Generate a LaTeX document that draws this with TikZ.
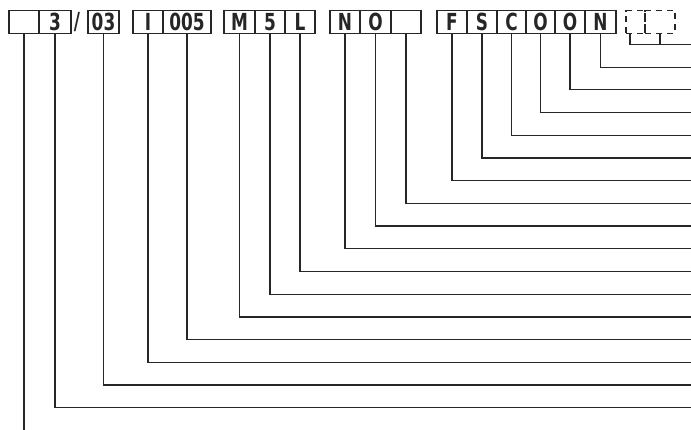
\documentclass[tikz,border=0pt]{standalone}
\usepackage{fontspec}
\newfontfamily\codefont[FakeStretch=0.72]{DejaVu Sans Bold}
\begin{document}
\begin{tikzpicture}[x=1pt,y=-1pt,
  cell/.style={draw=black!85, line width=1.2pt, inner sep=0pt, minimum height=22.6pt,
    font=\codefont\fontsize{23.5}{24}\selectfont, text=black!85, text height=17.3pt, text depth=0pt},
  dcell/.style={draw=black!85, dash pattern=on 6pt off 5pt, line width=1.1pt, inner sep=0pt, minimum height=22.6pt},
  lead/.style={draw=black!85, line width=1.2pt},
  slash/.style={inner sep=0pt, text=black!85, font=\codefont\fontsize{23.5}{24}\selectfont}]
\useasboundingbox (0,0) rectangle (691,430);
\newcommand{\cellnode}[4]{\node[cell, minimum width={#2-#1}, anchor=center] (#3) at ({(#1+#2)/2},22) {#4};}
\cellnode{9}{39}{c1}{}
\cellnode{39}{71}{c2}{3}
\node[slash] (sl) at (77,22) {/};
\cellnode{88}{119}{c3}{03}
\cellnode{133}{163}{c4}{I}
\cellnode{163}{211}{c5}{005}
\cellnode{224}{255}{c6}{M}
\cellnode{255}{285}{c7}{5}
\cellnode{285}{315}{c8}{L}
\cellnode{330}{360}{c9}{N}
\cellnode{360}{391}{c10}{O}
\cellnode{391}{421}{c11}{}
\cellnode{437}{467}{c12}{F}
\cellnode{467}{497}{c13}{S}
\cellnode{497}{526}{c14}{C}
\cellnode{526}{555}{c15}{O}
\cellnode{555}{585}{c16}{O}
\cellnode{585}{616}{c17}{N}
% dashed cells
\node[dcell, minimum width=19pt] (d1) at (635.5,22.2) {};
\node[dcell, minimum width=30pt] (d2) at (660,22.2) {};
% right-end coordinates
\foreach \k in {0,...,16} {\coordinate (r\k) at (691,{44.4+22.71*\k});}
\coordinate (bot) at (24,430);
\coordinate (tA) at (630,33.5);
\coordinate (tB) at (660,33.5);
% leaders
\draw[lead] (tA) |- (r0);
\draw[lead] (tB) -- (tB |- r0);
\draw[lead] (c17.south) |- (r1);
\draw[lead] (c16.south) |- (r2);
\draw[lead] (c15.south) |- (r3);
\draw[lead] (c14.south) |- (r4);
\draw[lead] (c13.south) |- (r5);
\draw[lead] (c12.south) |- (r6);
\draw[lead] (c11.south) |- (r7);
\draw[lead] (c10.south) |- (r8);
\draw[lead] (c9.south) |- (r9);
\draw[lead] (c8.south) |- (r10);
\draw[lead] (c7.south) |- (r11);
\draw[lead] (c6.south) |- (r12);
\draw[lead] (c5.south) |- (r13);
\draw[lead] (c4.south) |- (r14);
\draw[lead] (c3.south) |- (r15);
\draw[lead] (c2.south) |- (r16);
\draw[lead] (c1.south) -- (bot);
\end{tikzpicture}
\end{document}
